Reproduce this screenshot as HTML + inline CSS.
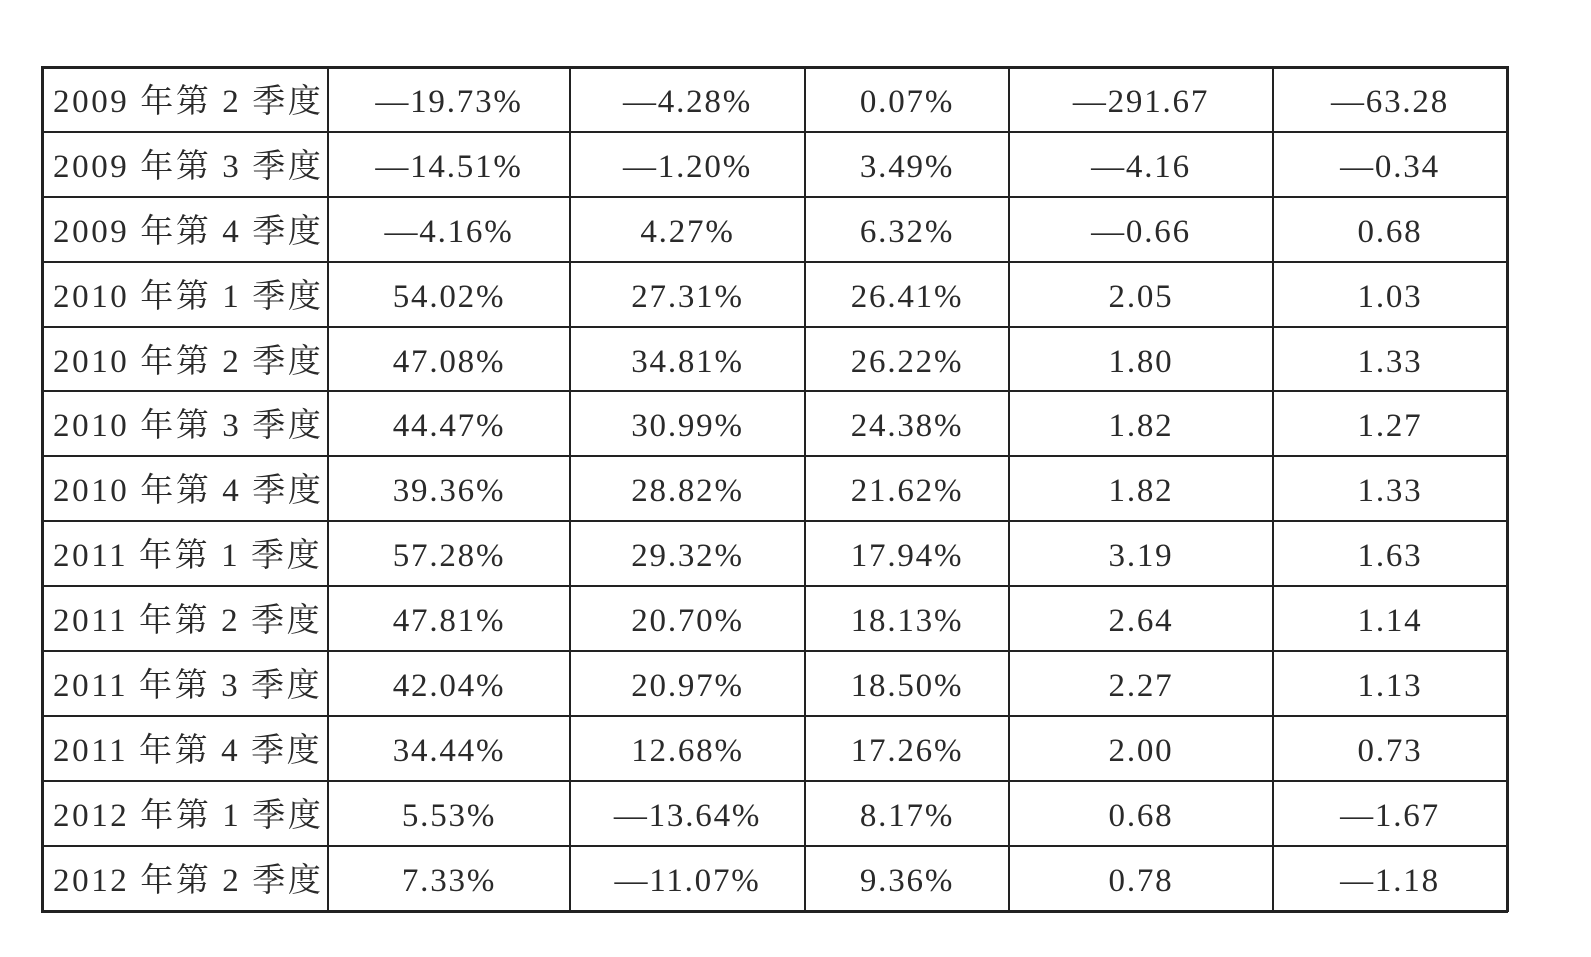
<!DOCTYPE html>
<html><head><meta charset="utf-8"><style>
body{margin:0;width:1591px;height:957px;background:#fff;position:relative;overflow:hidden;font-family:"Liberation Serif","Noto Serif CJK SC",serif;color:#2a2a2a}
.h{position:absolute;left:41px;width:1467px;height:2px;background:#222}
.v{position:absolute;top:66px;height:846px;width:2px;background:#222}
.c{position:absolute;height:65px;line-height:67px;font-size:33px;text-align:center;white-space:nowrap;letter-spacing:1.8px}
.l{text-align:left;padding-left:11px;letter-spacing:2.6px}
</style></head><body>
<div id="g"></div>
<script>
const ys=[67,132,197,262,327,391,456,521,586,651,716,781,846,911];
const xs=[42,328,570,805,1009,1273,1507];
const data=[
["2009 年第 2 季度","—19.73%","—4.28%","0.07%","—291.67","—63.28"],
["2009 年第 3 季度","—14.51%","—1.20%","3.49%","—4.16","—0.34"],
["2009 年第 4 季度","—4.16%","4.27%","6.32%","—0.66","0.68"],
["2010 年第 1 季度","54.02%","27.31%","26.41%","2.05","1.03"],
["2010 年第 2 季度","47.08%","34.81%","26.22%","1.80","1.33"],
["2010 年第 3 季度","44.47%","30.99%","24.38%","1.82","1.27"],
["2010 年第 4 季度","39.36%","28.82%","21.62%","1.82","1.33"],
["2011 年第 1 季度","57.28%","29.32%","17.94%","3.19","1.63"],
["2011 年第 2 季度","47.81%","20.70%","18.13%","2.64","1.14"],
["2011 年第 3 季度","42.04%","20.97%","18.50%","2.27","1.13"],
["2011 年第 4 季度","34.44%","12.68%","17.26%","2.00","0.73"],
["2012 年第 1 季度","5.53%","—13.64%","8.17%","0.68","—1.67"],
["2012 年第 2 季度","7.33%","—11.07%","9.36%","0.78","—1.18"]];
let h="";
ys.forEach((y,i)=>{const t=(i==0||i==ys.length-1)?3:2;h+=`<div class="h" style="top:${y-1}px;height:${t}px"></div>`});
xs.forEach((x,i)=>{const t=(i==0||i==xs.length-1)?3:2;h+=`<div class="v" style="left:${x-1}px;width:${t}px"></div>`});
data.forEach((r,ri)=>{r.forEach((s,ci)=>{
 const x0=xs[ci],x1=xs[ci+1];
 h+=`<div class="c${ci==0?' l':''}" style="top:${ys[ri]+2}px;left:${x0}px;width:${ci==0?x1-x0-11:x1-x0}px">${s}</div>`;
})});
document.getElementById("g").innerHTML=h;
</script>
</body></html>
